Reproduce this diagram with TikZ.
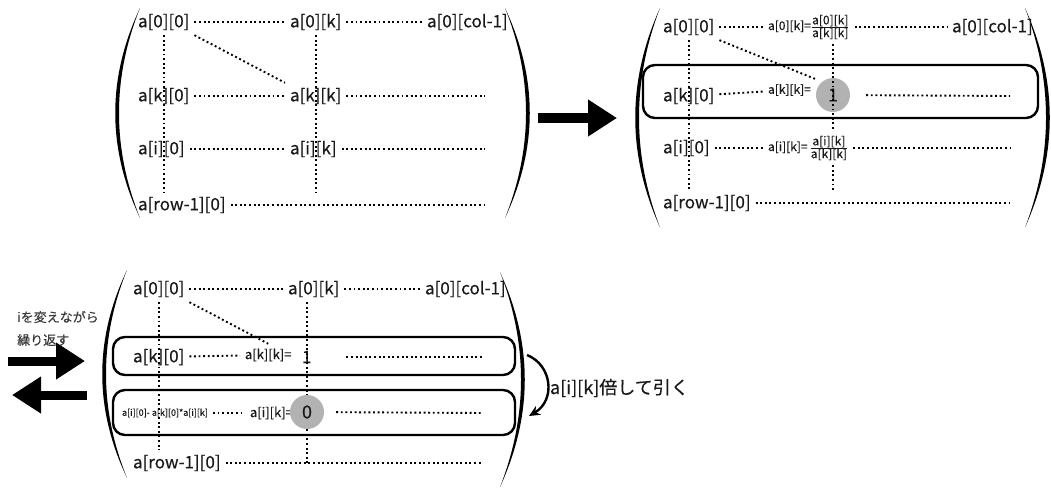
\documentclass[tikz,border=0pt]{standalone}
\usepackage{fontspec}
\setmainfont{Noto Sans CJK JP}[FakeBold=0.35]
\usetikzlibrary{arrows.meta, calc}
\definecolor{inkgray}{RGB}{25, 25, 25}
\definecolor{notegray}{RGB}{60, 60, 60}
\definecolor{pivotgray}{RGB}{178, 178, 178}
\tikzset{
  entry/.style={
    anchor=west,
    inner sep=0pt,
    outer sep=5pt,
    text=inkgray,
    font=\fontsize{17}{20}\selectfont
  },
  mid entry/.style={entry, font=\fontsize{13}{15}\selectfont},
  small entry/.style={entry, font=\fontsize{12}{14}\selectfont},
  tiny entry/.style={entry, font=\fontsize{9}{11}\selectfont},
  note/.style={
    anchor=west,
    inner sep=0pt,
    text=notegray,
    font=\fontsize{13}{15}\selectfont
  },
  pivot/.style={
    circle,
    fill=pivotgray,
    minimum size=34pt,
    inner sep=0pt,
    text=inkgray,
    font=\fontsize{18}{20}\selectfont
  },
  dots/.style={
    draw=black,
    line width=1.9pt,
    dash pattern=on 1.9pt off 2.7pt
  },
  rowbox/.style={
    draw=black,
    line width=2.4pt,
    rounded corners=12pt
  },
  bigarrow/.style={
    line width=10pt,
    -{Triangle[length=29pt 0 0, width=35pt 0 0]}
  },
  subarrow/.style={
    line width=2.4pt,
    -{Stealth[length=11pt 0 0, width=10pt 0 0]}
  },
  paren/.pic={
    \fill (0,0) .. controls (-33,70) and (-33,140) .. (0,210)
                .. controls (-28,140) and (-28,70) .. (0,0) -- cycle;
  }
}

\begin{document}
\begin{tikzpicture}[x=1pt, y=-1pt]
  \useasboundingbox (0,0) rectangle (1051,488);

  % matrix before scaling
  \pic at (140,8) {paren};
  \pic[xscale=-1] at (505,8) {paren};
  \node[entry] (p1a00) at (133,22) {a[0][0]};
  \node[entry] (p1a0k) at (285,22) {a[0][k]};
  \node[entry] (p1a0c) at (422,22) {a[0][col-1]};
  \node[entry] (p1ak0) at (133,96) {a[k][0]};
  \node[entry] (p1akk) at (285,96) {a[k][k]};
  \node[entry] (p1ai0) at (133,149) {a[i][0]};
  \node[entry] (p1aik) at (285,149) {a[i][k]};
  \node[entry] (p1ar0) at (133,205) {a[row-1][0]};
  \coordinate (p1kend) at (485,96);
  \coordinate (p1iend) at (485,149);
  \coordinate (p1rend) at (485,205);
  \draw[dots] (p1a00) -- (p1a0k);
  \draw[dots] (p1a0k) -- (p1a0c);
  \draw[dots] (p1ak0) -- (p1akk);
  \draw[dots] (p1akk) -- (p1kend);
  \draw[dots] (p1ai0) -- (p1aik);
  \draw[dots] (p1aik) -- (p1iend);
  \draw[dots] (p1ar0) -- (p1rend);
  \draw[dots] (p1a00.south) -- (p1a00.south |- p1ar0.north);
  \draw[dots] (p1a0k.south) -- (p1a0k.south |- p1ar0.north);
  \draw[dots] (p1a00.south east) -- (p1akk.north west);

  \coordinate (gofrom) at (538,118);
  \coordinate (goto) at (617,118);
  \draw[bigarrow] (gofrom) -- (goto);

  % row k divided by the pivot
  \pic[yscale=1.045] at (660,8) {paren};
  \pic[xscale=-1, yscale=1.045] at (1025,8) {paren};
  \draw[rowbox] (643,65) rectangle (1038,118);
  \node[pivot] (p2one) at (833,95) {1};
  \node[entry] (p2a00) at (658,27) {a[0][0]};
  \node[small entry] (p2f0k) at (763,27) {a[0][k]=$\frac{\mbox{a[0][k]}}{\mbox{a[k][k]}}$};
  \node[entry] (p2a0c) at (947,27) {a[0][col-1]};
  \node[entry] (p2ak0) at (658,96) {a[k][0]};
  \node[small entry] (p2akk) at (763,90) {a[k][k]=};
  \node[entry] (p2ai0) at (658,148) {a[i][0]};
  \node[small entry] (p2fik) at (763,148) {a[i][k]=\,$\frac{\mbox{a[i][k]}}{\mbox{a[k][k]}}$};
  \node[entry] (p2ar0) at (658,203) {a[row-1][0]};
  \coordinate (p2kend) at (1010,96);
  \coordinate (p2iend) at (1010,148);
  \coordinate (p2rend) at (1010,203);
  \draw[dots] (p2a00) -- (p2f0k);
  \draw[dots] (p2f0k) -- (p2a0c);
  \draw[dots] (p2ak0) -- (p2akk);
  \draw[dots, shorten <=16pt] (p2one) -- (p2kend);
  \draw[dots] (p2ai0) -- (p2fik);
  \draw[dots] (p2fik) -- (p2iend);
  \draw[dots] (p2ar0) -- (p2rend);
  \draw[dots] (p2a00.south) -- (p2a00.south |- p2ar0.north);
  \draw[dots] (p2one |- p2f0k.south) -- (p2one |- p2fik.north);
  \draw[dots] (p2one |- p2fik.south) -- (p2one |- p2ar0.north);
  \draw[dots] (p2a00.south east) -- (p2akk.north east);

  % row i minus a[i][k] times row k
  \node[note] (loop1) at (17,317) {iを変えながら};
  \node[note] (loop2) at (17,340) {繰り返す};
  \coordinate (fwdfrom) at (8,361);
  \coordinate (fwdto) at (85,361);
  \coordinate (backfrom) at (87,395);
  \coordinate (backto) at (12,395);
  \draw[bigarrow, line width=9pt] (fwdfrom) -- (fwdto);
  \draw[bigarrow, line width=9pt] (backfrom) -- (backto);

  \pic[yscale=0.99] at (127,270) {paren};
  \pic[xscale=-1, yscale=1.024] at (500,272) {paren};
  \draw[rowbox] (113,337) rectangle (515,375);
  \draw[rowbox] (113,390) rectangle (515,435);
  \node[entry] (p3a00) at (128,289) {a[0][0]};
  \node[entry] (p3a0k) at (283,289) {a[0][k]};
  \node[entry] (p3a0c) at (420,289) {a[0][col-1]};
  \node[entry] (p3ak0) at (128,357) {a[k][0]};
  \node[mid entry] (p3akk) at (240,355) {a[k][k]=};
  \node[entry] (p3one) at (297,357) {1};
  \node[tiny entry] (p3sub) at (117,413) {a[i][0]- a[k][0]*a[i][k]};
  \node[mid entry] (p3aik) at (245,413) {a[i][k]=};
  \node[pivot] (p3zero) at (307,412) {0};
  \node[entry] (p3ar0) at (128,463) {a[row-1][0]};
  \coordinate (p3kend) at (483,357);
  \coordinate (p3iend) at (483,413);
  \coordinate (p3rend) at (483,463);
  \draw[dots] (p3a00) -- (p3a0k);
  \draw[dots] (p3a0k) -- (p3a0c);
  \draw[dots] (p3ak0) -- (p3akk);
  \draw[dots, shorten <=30pt] (p3one) -- (p3kend);
  \draw[dots] (p3sub) -- (p3aik);
  \draw[dots, shorten <=12pt] (p3zero) -- (p3iend);
  \draw[dots] (p3ar0) -- (p3rend);
  \draw[dots] (p3a00.south) -- (p3a00.south |- p3ar0.north);
  \draw[dots] (p3zero |- p3a0k.south) -- (p3zero.north);
  \draw[dots] (p3zero.south) -- (p3zero |- p3rend);
  \draw[dots] (p3a00.south east) -- (p3akk.north);

  \coordinate (subfrom) at (527,355);
  \coordinate (subto) at (529,416);
  \draw[subarrow] (subfrom) .. controls (552,365) and (556,400) .. (subto);
  \node[entry, outer sep=0pt, font=\fontsize{18}{20}\selectfont] (subnote) at (550,388) {a[i][k]倍して引く};
\end{tikzpicture}
\end{document}
